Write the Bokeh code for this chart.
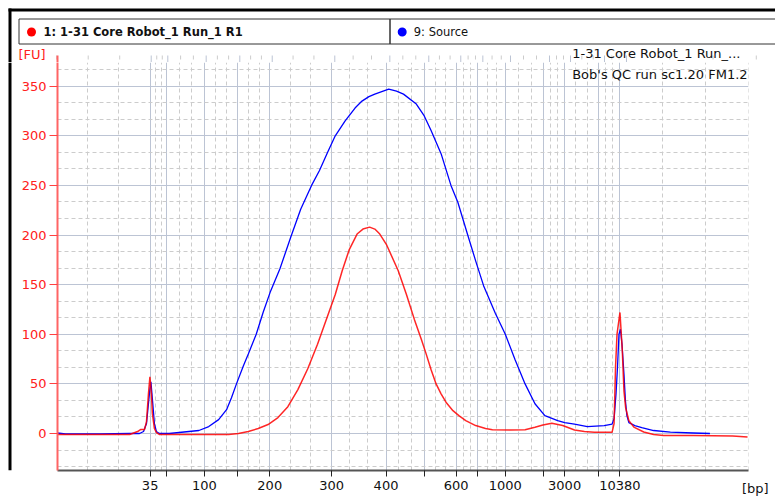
from bokeh.plotting import figure
from bokeh.layouts import column, row
from bokeh.models import Range1d, FixedTicker, SingleIntervalTicker, Label
from bokeh.core.properties import value
from bokeh.embed import file_html
from bokeh.resources import INLINE

# ---------------- data ----------------
# ladder: fragment size (bp) and its migration time (s)
ladder_bp = [35, 50, 100, 150, 200, 300, 400, 500, 600, 700, 1000, 2000, 3000, 7000, 10380]
ladder_time = [43.00, 45.34, 50.75, 55.49, 60.06, 68.88, 76.64, 82.13, 86.64, 89.75,
               93.65, 99.15, 102.11, 106.90, 110.00]
labeled_bp = [35, 100, 200, 300, 400, 600, 1000, 3000, 10380]

# sample 1: 1-31 Core Robot_1 Run_1 R1 (red)
sample_time = [29.79, 35.85, 40.08, 41.21, 41.63, 42.20, 42.48, 42.76, 42.97, 43.18, 43.32,
               43.61, 43.89, 44.31, 49.95, 54.18, 55.59, 57.00, 58.41, 59.82, 61.23, 62.64,
               64.05, 65.46, 66.87, 68.28, 69.40, 70.39, 71.38, 72.51, 73.35, 74.30, 75.04,
               75.75, 76.73, 78.38, 79.55, 80.68, 81.67, 82.37, 83.08, 83.78, 84.49, 85.19,
               86.18, 87.03, 88.01, 89.42, 90.83, 91.82, 94.36, 96.47, 97.88, 99.01, 100.28,
               101.83, 103.52, 104.93, 106.34, 108.88, 109.16, 109.37, 109.58, 110.00,
               110.33, 110.57, 110.81, 111.27, 111.98, 113.39, 114.80, 116.21, 120.44,
               126.07, 128.19]
sample_fu = [-1, -1, -1, 2, 4, 4, 12, 40, 57, 40, 20,
             5, 1, -1, -1, -1, 0, 2, 5, 9, 16, 27,
             44, 65, 90, 118, 140, 164, 185, 201, 206, 208, 206,
             201, 190, 164, 140, 115, 95, 80, 64, 50, 40, 31.5,
             23, 18, 13, 8, 5, 3.7, 3.5, 3.7, 6.3, 8.5, 10.4,
             8, 3.5, 2, 1.3, 1.3, 10, 67, 100, 122,
             84, 43, 26, 13, 6.5, 1.5, -1, -2, -2,
             -2.5, -3.5]

# sample 9: Source (blue)
source_time = [29.79, 30.92, 35.85, 40.08, 41.49, 42.06, 42.48, 42.76, 42.97, 43.11, 43.32,
               43.61, 43.89, 44.31, 45.72, 47.13, 48.54, 49.95, 51.36, 52.77, 53.90, 54.60,
               55.31, 56.29, 57.00, 58.13, 59.11, 60.10, 61.51, 63.06, 64.47, 66.02, 67.15,
               68.28, 69.40, 70.81, 72.22, 73.21, 74.20, 75.04, 77.02, 78.14, 79.13, 80.96,
               82.09, 83.08, 84.49, 85.90, 86.88, 88.29, 89.42, 90.55, 92.24, 93.65, 95.06,
               96.47, 97.88, 99.29, 101.12, 102.11, 103.52, 105.35, 107.75,
               108.88, 109.16, 109.44, 109.65, 109.86, 110.07, 110.29, 110.57, 110.78,
               110.99, 111.27, 112.12, 113.11, 114.80, 117.19, 120.44, 122.83]
source_fu = [0.5, -0.5, -0.5, 0, 0, 2, 10, 30, 45, 52, 35,
             10, 2, 0, 0, 1, 2, 3, 7, 14, 24, 36,
             50, 68, 80, 100, 122, 142, 166, 198, 226, 250, 265,
             283, 300, 315, 328, 335, 339.5, 342, 347, 345, 342, 332,
             320, 305, 282, 250, 233, 200, 174, 149, 121, 100, 74,
             50, 30, 18, 13, 11, 9.5, 7, 8,
             9.5, 15, 40, 67, 100, 105, 90, 60, 33,
             18, 11, 8, 6, 3, 1.3, 0.5, 0]

legend_names = ["1: 1-31 Core Robot_1 Run_1 R1", "9: Source"]
info_lines = ["1-31 Core Robot_1 Run_...", "Bob's QC run sc1.20 FM1.2"]

# ---------------- layout / style constants ----------------
FONT = "DejaVu Sans"
W, H = 775, 501
HEAD_H = 62          # header strip height
STRIP_W = 12         # left border strip width
FRAME_L, FRAME_R, FRAME_B = 57, 756, 470   # page pixels of the plot frame
X0, X1 = 29.79, 128.33
Y0, Y1 = -37.29, 373.88
GRID_MAJOR = "#bcc4d4"
GRID_MINOR = "#cccccc"
grid_step_left = 4.44
grid_step_right = 6.1

minor_x = []
for a, b in zip(ladder_time[:-1], ladder_time[1:]):
    minor_x += [a + (b - a) / 3, a + 2 * (b - a) / 3]
minor_x += [ladder_time[0] - grid_step_left * k for k in (1, 2, 3)]
minor_x += [ladder_time[-1] + grid_step_right * k for k in (1, 2, 3)]

overrides = {}
for bp, t in zip(ladder_bp, ladder_time):
    overrides[t] = str(bp) if bp in labeled_bp else ""

# ---------------- main chart ----------------
main_w, main_h = W - STRIP_W, H - HEAD_H
p = figure(width=main_w, height=main_h, output_backend="svg", toolbar_location=None,
           x_range=Range1d(X0, X1), y_range=Range1d(Y0, Y1),
           min_border_left=FRAME_L - STRIP_W, min_border_right=W - FRAME_R,
           min_border_top=0, min_border_bottom=H - FRAME_B)
p.outline_line_color = None
p.background_fill_color = "white"
p.border_fill_color = "white"

xt = FixedTicker(ticks=ladder_time, minor_ticks=minor_x)
p.xaxis.ticker = xt
p.xgrid.ticker = xt
yt = SingleIntervalTicker(interval=50, num_minor_ticks=3)
p.yaxis.ticker = yt
p.ygrid.ticker = yt

for g in (p.xgrid, p.ygrid):
    g.grid_line_color = GRID_MAJOR
    g.grid_line_width = 1
    g.minor_grid_line_color = GRID_MINOR
    g.minor_grid_line_dash = "4 3"
    g.minor_grid_line_width = 1

p.xaxis.major_label_overrides = overrides
p.xaxis.axis_line_color = "#555555"
p.xaxis.axis_line_width = 2
p.xaxis.major_tick_line_color = "#222222"
p.xaxis.major_tick_out = 6
p.xaxis.major_tick_in = 0
p.xaxis.minor_tick_line_color = None
p.xaxis.major_label_text_font = FONT
p.xaxis.major_label_text_font_size = "13px"
p.xaxis.major_label_text_color = "#111111"
p.xaxis.major_label_standoff = 4

p.yaxis.axis_line_color = "#ff6464"
p.yaxis.axis_line_width = 2
p.yaxis.major_tick_line_color = "#ff4040"
p.yaxis.major_tick_out = 8
p.yaxis.major_tick_in = 0
p.yaxis.minor_tick_line_color = None
p.yaxis.major_label_text_font = FONT
p.yaxis.major_label_text_font_size = "13px"
p.yaxis.major_label_text_color = "#ff2020"
p.yaxis.major_label_standoff = 3

p.line(source_time, source_fu, line_color="#0000ff", line_width=1.3)
p.line(sample_time, sample_fu, line_color="#ff0000", line_width=1.5, line_alpha=0.85)

p.add_layout(Label(x=571.7 - STRIP_W, y=74.0 - HEAD_H, x_units="canvas", y_units="canvas",
                   text=info_lines[1], text_font=FONT, text_font_size="13px",
                   text_color="#111111", text_baseline="middle", text_align="left"))
p.add_layout(Label(x=741.5 - STRIP_W, y=487.5 - HEAD_H, x_units="canvas", y_units="canvas",
                   text="[bp]", text_font=FONT, text_font_size="13px",
                   text_color="#111111", text_baseline="middle", text_align="left"), "right")

# ---------------- header (legend row, [FU], info line) ----------------
px_per_unit = (X1 - X0) / (FRAME_R - FRAME_L)
hd = figure(width=W, height=HEAD_H, output_backend="svg", toolbar_location=None,
            x_range=Range1d(0, W), y_range=Range1d(HEAD_H, 0),
            x_axis_location=None, y_axis_location=None,
            min_border_left=0, min_border_right=0, min_border_top=0, min_border_bottom=0)
hd.extra_x_ranges = {"time": Range1d(X0 - FRAME_L * px_per_unit, X1 + (W - FRAME_R) * px_per_unit)}
hd.grid.visible = False
hd.outline_line_color = None
hd.background_fill_color = "white"
hd.border_fill_color = "white"

top_of_frame = 55
# grid / axis stubs continuing the main chart above its canvas
hd.segment(x0=ladder_time, x1=ladder_time, y0=top_of_frame, y1=HEAD_H, x_range_name="time",
           line_color=GRID_MAJOR, line_width=1)
hd.segment(x0=minor_x, x1=minor_x, y0=top_of_frame, y1=HEAD_H, x_range_name="time",
           line_color=GRID_MINOR, line_width=1, line_dash="4 3")
hd.segment(x0=[X0], x1=[X0], y0=top_of_frame, y1=HEAD_H, x_range_name="time",
           line_color="#ff6464", line_width=2)

# outer black frame (top + left) and legend cells
hd.quad(left=[8, 8], right=[W, 11], top=[8, 8], bottom=[11, HEAD_H], fill_color="black",
        line_color=None)
hd.quad(left=[18.5, 389.5], right=[389.5, W + 5], top=[18.5, 18.5], bottom=[43.5, 43.5],
        fill_color=None, line_color="#333333", line_width=1)
hd.scatter(x=[31, 401.7], y=[31.5, 31.5], size=9, marker="circle",
           fill_color=["#ff0000", "#0000ff"], line_color=None)
hd.text(x=[43.0], y=[31.5], text=[legend_names[0]], text_font=value(FONT),
        text_font_size="11.5px", text_font_style="bold", text_color="#111111",
        text_baseline="middle", text_align="left")
hd.text(x=[413.3], y=[31.5], text=[legend_names[1]], text_font=value(FONT),
        text_font_size="11.5px", text_color="#111111",
        text_baseline="middle", text_align="left")
hd.text(x=[18.0], y=[54.0], text=["[FU]"], text_font=value(FONT), text_font_size="13px",
        text_color="#ff2020", text_baseline="middle", text_align="left")
hd.text(x=[571.7], y=[53.0], text=[info_lines[0]], text_font=value(FONT),
        text_font_size="13px", text_color="#111111", text_baseline="middle", text_align="left")

# ---------------- left border strip ----------------
st = figure(width=STRIP_W, height=main_h, output_backend="svg", toolbar_location=None,
            x_range=Range1d(0, STRIP_W), y_range=Range1d(main_h, 0),
            x_axis_location=None, y_axis_location=None,
            min_border_left=0, min_border_right=0, min_border_top=0, min_border_bottom=0)
st.grid.visible = False
st.outline_line_color = None
st.background_fill_color = "white"
st.border_fill_color = "white"
st.quad(left=[8], right=[11], top=[0], bottom=[main_h], fill_color="black", line_color=None)

layout = column(hd, row(st, p, spacing=0), spacing=0)
open("out.html", "w").write(file_html(layout, INLINE))
